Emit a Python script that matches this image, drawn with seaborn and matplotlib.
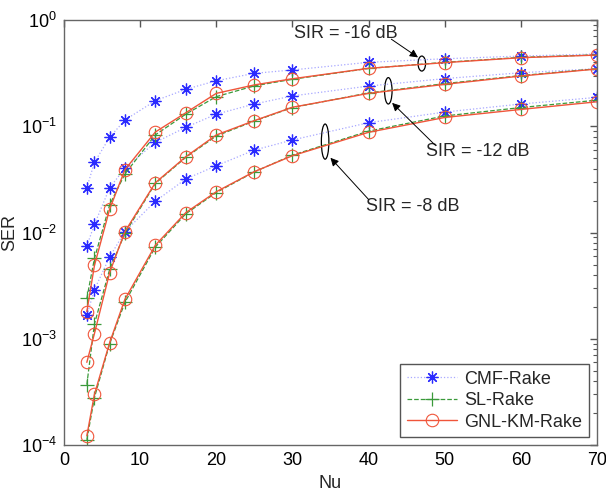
import matplotlib
matplotlib.use("Agg")
import matplotlib.pyplot as plt
import seaborn as sns
import numpy as np
import pandas as pd
from matplotlib.patches import Ellipse
from matplotlib.ticker import LogLocator, FixedLocator, NullFormatter

sns.set_theme(style="white")
plt.rcParams['font.family'] = ['Liberation Sans', 'DejaVu Sans']
plt.rcParams['mathtext.fontset'] = 'custom'
plt.rcParams['mathtext.rm'] = 'Liberation Sans'
plt.rcParams['mathtext.it'] = 'Liberation Sans'

nu = [3, 4, 6, 8, 12, 16, 20, 25, 30, 40, 50, 60, 70]

# CMF-Rake
cmf_16 = [0.0264, 0.0458, 0.0787, 0.1145, 0.174, 0.223, 0.268, 0.315, 0.339, 0.400, 0.432, 0.458, 0.479]
cmf_12 = [0.0075, 0.0119, 0.0264, 0.0402, 0.0706, 0.0977, 0.130, 0.162, 0.193, 0.239, 0.281, 0.319, 0.348]
cmf_8 = [0.00166, 0.0029, 0.0059, 0.0102, 0.0197, 0.0319, 0.0425, 0.0597, 0.0743, 0.108, 0.136, 0.162, 0.187]
# SL-Rake
sl_16 = [0.0024, 0.0057, 0.0182, 0.0356, 0.083, 0.130, 0.190, 0.240, 0.277, 0.350, 0.400, 0.445, 0.470]
sl_12 = [0.00037, 0.00138, 0.0045, 0.0098, 0.029, 0.0510, 0.0810, 0.112, 0.150, 0.206, 0.252, 0.300, 0.348]
sl_8 = [0.000112, 0.00028, 0.0009, 0.0022, 0.0073, 0.0150, 0.0238, 0.0372, 0.0535, 0.090, 0.125, 0.150, 0.176]
# GNL-KM-Rake
gnl_16 = [0.0018, 0.0049, 0.0166, 0.039, 0.0883, 0.134, 0.204, 0.245, 0.280, 0.351, 0.397, 0.442, 0.468]
gnl_12 = [0.0006, 0.00112, 0.0042, 0.0102, 0.0294, 0.0517, 0.0828, 0.113, 0.151, 0.204, 0.248, 0.297, 0.346]
gnl_8 = [0.000122, 0.0003, 0.00092, 0.00235, 0.0076, 0.0154, 0.0242, 0.0374, 0.0528, 0.0877, 0.121, 0.144, 0.170]

methods = ["CMF-Rake", "SL-Rake", "GNL-KM-Rake"]
series = {
    "CMF-Rake": [cmf_16, cmf_12, cmf_8],
    "SL-Rake": [sl_16, sl_12, sl_8],
    "GNL-KM-Rake": [gnl_16, gnl_12, gnl_8],
}
sir_labels = ["SIR = -16 dB", "SIR = -12 dB", "SIR = -8 dB"]

fig = plt.figure(figsize=(6.06, 4.92), dpi=100)
ax = fig.add_axes([0.1056, 0.0955, 0.8794, 0.8638])

styles = {
    "CMF-Rake": dict(color="#a8a8ff", linestyle=":", lw=0.9, marker=(8, 2, 0), mfc="#2a2aff",
                     mec="#2a2aff", ms=8.5, mew=0.9),
    "SL-Rake": dict(color="#3a9a3a", linestyle="--", lw=0.9, marker="+", mfc="none",
                    mec="#3a9a3a", ms=10, mew=0.9),
    "GNL-KM-Rake": dict(color="#f0553a", linestyle="-", lw=1.0, marker="o", mfc="none",
                        mec="#f0553a", ms=9, mew=0.8),
}

handles = {}
for m in methods:
    for i, vals in enumerate(series[m]):
        df = pd.DataFrame({"Nu": nu, "SER": vals})
        st = styles[m]
        sns.lineplot(data=df, x="Nu", y="SER", ax=ax, color=st["color"], linestyle=st["linestyle"],
                     lw=st["lw"], marker=st["marker"], markerfacecolor=st["mfc"],
                     markeredgecolor=st["mec"], markersize=st["ms"], markeredgewidth=st["mew"],
                     label=m if i == 0 else None, legend=False)
    handles[m] = ax.lines[-3]

ax.set_yscale("log")
ax.set_xlim(0, 70)
ax.set_ylim(1e-4, 1)
ax.set_xticks([0, 10, 20, 30, 40, 50, 60, 70])
ax.yaxis.set_major_locator(FixedLocator([1e-4, 1e-3, 1e-2, 1e-1, 1]))
ax.set_yticklabels([r"$10^{-4}$", r"$10^{-3}$", r"$10^{-2}$", r"$10^{-1}$", r"$10^{0}$"])
ax.yaxis.set_minor_locator(LogLocator(base=10, subs=np.arange(2, 10), numticks=20))
ax.yaxis.set_minor_formatter(NullFormatter())

ax.tick_params(axis="both", which="both", direction="in", top=True, right=True,
               colors="#555555", labelcolor="black", labelsize=13)
ax.tick_params(axis="both", which="major", length=5, width=1, pad=5)
ax.tick_params(axis="y", which="minor", length=3, width=0.8)
for s in ax.spines.values():
    s.set_color("#666666")
    s.set_linewidth(1.0)

ax.set_xlabel("Nu", fontsize=13, labelpad=4)
ax.set_ylabel("SER", fontsize=13, labelpad=2)

# ellipses and annotations
ell_specs = [
    # x center, y low, y high, text x, text y, arrow tail, arrow head
    (47.0, 0.331, 0.458, 37.0, 0.74, (43.0, 0.66), (46.5, 0.445)),
    (42.6, 0.162, 0.287, 54.3, 0.0576, (48.7, 0.067), (43.1, 0.166)),
    (34.3, 0.049, 0.105, 45.8, 0.0175, (40.0, 0.0205), (35.0, 0.0505)),
]
for (xc, ylo, yhi, tx, ty, tail, head), lab in zip(ell_specs, sir_labels):
    tr = ax.transData
    p_lo = tr.transform((xc, ylo))
    p_hi = tr.transform((xc, yhi))
    cen_disp = ((p_lo[0] + p_hi[0]) / 2, (p_lo[1] + p_hi[1]) / 2)
    height_disp = abs(p_hi[1] - p_lo[1])
    e = Ellipse(cen_disp, width=7.5, height=height_disp, transform=None,
                fill=False, edgecolor="black", lw=0.9)
    ax.add_artist(e)
    ax.text(tx, ty, lab, fontsize=13, ha="center", va="center")
    ax.annotate("", xy=head, xytext=tail,
                arrowprops=dict(arrowstyle="-|>", color="black", lw=0.7,
                                mutation_scale=12, shrinkA=0, shrinkB=0))

leg = ax.legend([handles[m] for m in methods], methods, loc="lower right",
                bbox_to_anchor=(0.985, 0.019), borderaxespad=0, fontsize=13,
                frameon=True, fancybox=False, framealpha=1, edgecolor="#555555",
                handlelength=2.8, labelspacing=0.25, handletextpad=0.4,
                borderpad=0.35)
leg.get_frame().set_linewidth(1.0)

fig.savefig("out.png", dpi=100)
